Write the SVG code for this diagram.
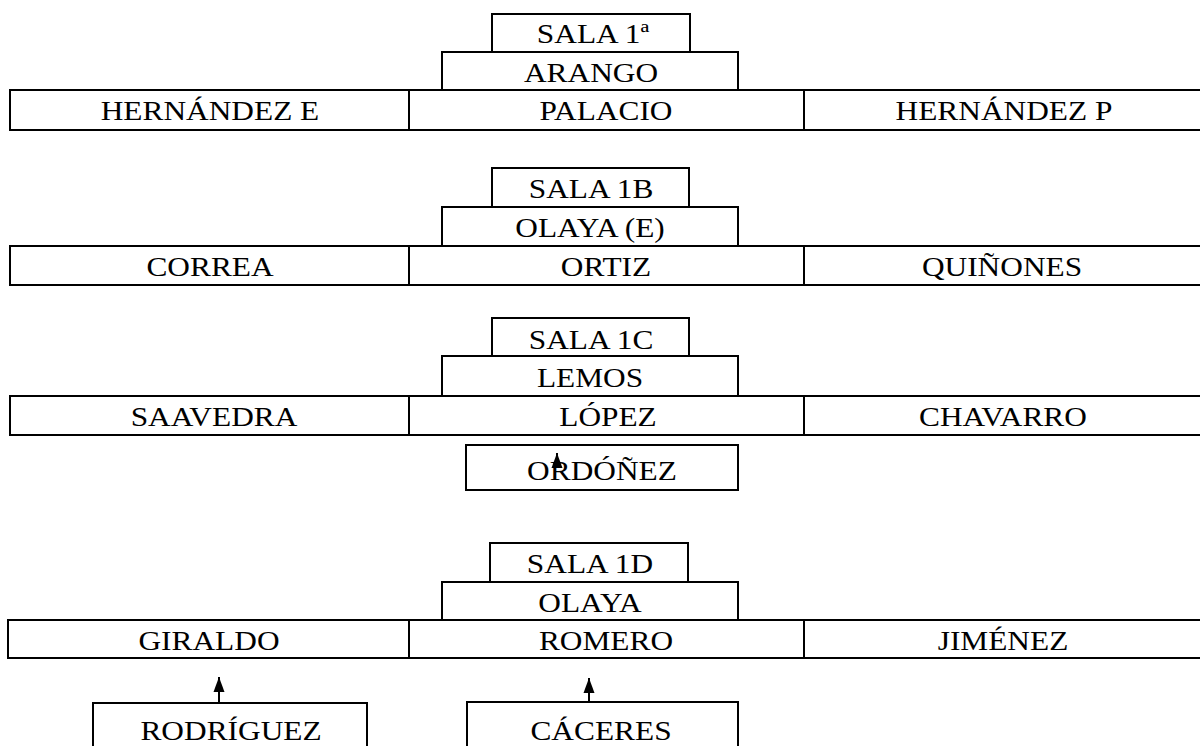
<svg xmlns="http://www.w3.org/2000/svg" width="1200" height="746" viewBox="0 0 1200 746">
<style>
.b{fill:none;stroke:#000;stroke-width:2}
.t{font-family:"Liberation Serif","Times New Roman",serif;font-size:28px;text-anchor:middle;fill:#000}
.c{stroke:#000;stroke-width:2;fill:none}
</style>
<defs>
<marker id="ah" markerUnits="userSpaceOnUse" markerWidth="16" markerHeight="14" viewBox="0 0 16 14" refX="15" refY="7" orient="auto">
<path d="M15,7 L0,1.5 L0,12.5 Z" fill="#000"/>
</marker>
</defs>
<rect width="1200" height="746" fill="#fff"/>

<g id="sala1a"><rect class="b" x="492" y="14" width="198" height="38"/><text class="t" transform="translate(593,43) scale(1.12,1)">SALA 1ª</text></g>
<g id="arango"><rect class="b" x="442" y="52" width="296" height="38"/><text class="t" transform="translate(591,82) scale(1.12,1)">ARANGO</text></g>
<g id="hernandezE"><rect class="b" x="10" y="90" width="399" height="40"/><text class="t" transform="translate(210,120) scale(1.12,1)">HERNÁNDEZ E</text></g>
<g id="palacio"><rect class="b" x="409" y="90" width="395" height="40"/><text class="t" transform="translate(606,120) scale(1.12,1)">PALACIO</text></g>
<g id="hernandezP"><rect class="b" x="804" y="90" width="402" height="40"/><text class="t" transform="translate(1004,120) scale(1.12,1)">HERNÁNDEZ P</text></g>

<g id="sala1b"><rect class="b" x="492" y="168" width="197" height="39"/><text class="t" transform="translate(591,198) scale(1.12,1)">SALA 1B</text></g>
<g id="olayaE"><rect class="b" x="442" y="207" width="296" height="39"/><text class="t" transform="translate(590,237) scale(1.12,1)">OLAYA (E)</text></g>
<g id="correa"><rect class="b" x="10" y="246" width="399" height="39"/><text class="t" transform="translate(210,276) scale(1.12,1)">CORREA</text></g>
<g id="ortiz"><rect class="b" x="409" y="246" width="395" height="39"/><text class="t" transform="translate(606,276) scale(1.12,1)">ORTIZ</text></g>
<g id="quinones"><rect class="b" x="804" y="246" width="402" height="39"/><text class="t" transform="translate(1002,276) scale(1.12,1)">QUIÑONES</text></g>

<g id="sala1c"><rect class="b" x="492" y="318" width="197" height="38"/><text class="t" transform="translate(591,349) scale(1.12,1)">SALA 1C</text></g>
<g id="lemos"><rect class="b" x="442" y="356" width="296" height="40"/><text class="t" transform="translate(590,387) scale(1.12,1)">LEMOS</text></g>
<g id="saavedra"><rect class="b" x="10" y="396" width="399" height="39"/><text class="t" transform="translate(214,426) scale(1.12,1)">SAAVEDRA</text></g>
<g id="lopez"><rect class="b" x="409" y="396" width="395" height="39"/><text class="t" transform="translate(608,426) scale(1.12,1)">LÓPEZ</text></g>
<g id="chavarro"><rect class="b" x="804" y="396" width="402" height="39"/><text class="t" transform="translate(1003,426) scale(1.12,1)">CHAVARRO</text></g>
<g id="ordonez"><rect class="b" x="466" y="445" width="272" height="45"/><text class="t" transform="translate(602,480) scale(1.12,1)">ORDÓÑEZ</text></g>

<g id="sala1d"><rect class="b" x="490" y="543" width="198" height="39"/><text class="t" transform="translate(590,573) scale(1.12,1)">SALA 1D</text></g>
<g id="olaya"><rect class="b" x="442" y="582" width="296" height="38"/><text class="t" transform="translate(590,612) scale(1.12,1)">OLAYA</text></g>
<g id="giraldo"><rect class="b" x="8" y="620" width="401" height="38"/><text class="t" transform="translate(209,650) scale(1.12,1)">GIRALDO</text></g>
<g id="romero"><rect class="b" x="409" y="620" width="395" height="38"/><text class="t" transform="translate(606,650) scale(1.12,1)">ROMERO</text></g>
<g id="jimenez"><rect class="b" x="804" y="620" width="402" height="38"/><text class="t" transform="translate(1003,650) scale(1.12,1)">JIMÉNEZ</text></g>
<g id="rodriguez"><rect class="b" x="93" y="703" width="274" height="60"/><text class="t" transform="translate(231,740) scale(1.12,1)">RODRÍGUEZ</text></g>
<g id="caceres"><rect class="b" x="467" y="702" width="271" height="60"/><text class="t" transform="translate(601,740) scale(1.12,1)">CÁCERES</text></g>

<g id="connectors">
<line class="c" x1="219" y1="703" x2="219" y2="677" marker-end="url(#ah)"/>
<line class="c" x1="589" y1="702" x2="589" y2="678" marker-end="url(#ah)"/>
<line class="c" x1="557" y1="468" x2="557" y2="453" marker-end="url(#ah)"/>
</g>
</svg>
